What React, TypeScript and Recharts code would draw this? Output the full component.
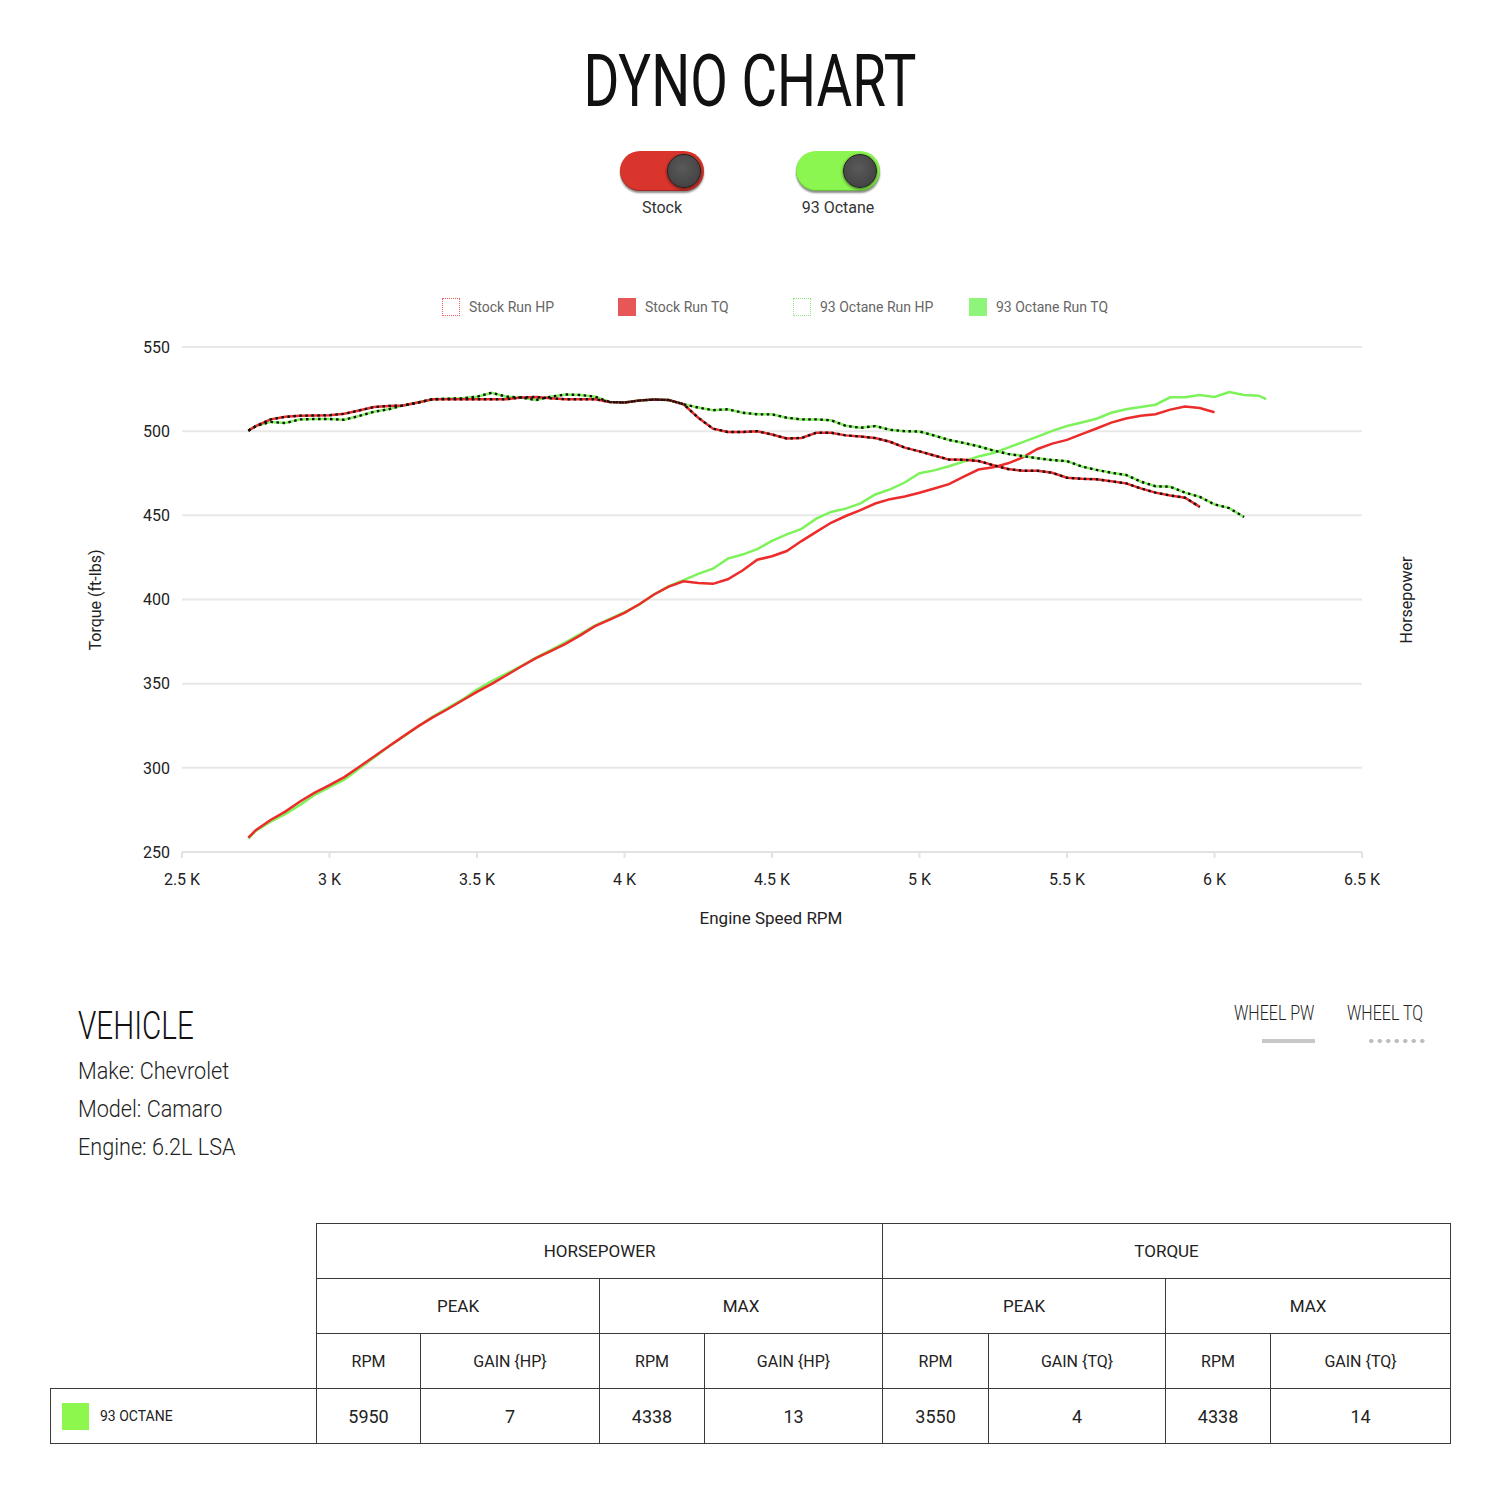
import { LineChart, Line, XAxis, YAxis, CartesianGrid } from "recharts"

// engine speed samples (rpm)
const rpm = [
  2725, 2750, 2800, 2850, 2900, 2950, 3000, 3050, 3100, 3150, 3200, 3250, 3300, 3350, 3400, 3450,
  3500, 3550, 3600, 3650, 3700, 3750, 3800, 3850, 3900, 3950, 4000, 4050, 4100, 4150, 4200, 4250,
  4300, 4350, 4400, 4450, 4500, 4550, 4600, 4650, 4700, 4750, 4800, 4850, 4900, 4950, 5000, 5050,
  5100, 5150, 5200, 5250, 5300, 5350, 5400, 5450, 5500, 5550, 5600, 5650, 5700, 5750, 5800, 5850,
  5900, 5950, 6000, 6050, 6100, 6150, 6175,
]

const stockRunHp = [
  500.3, 503, 507, 508.5, 509.2, 509.3, 509.5, 510.3, 512.3, 514.3, 515, 515.2, 517, 519, 519, 519,
  519, 519, 519, 520, 520.3, 519.5, 519, 519, 519, 517.3, 517, 518.2, 518.8, 518.5, 516, 508,
  501.5, 499.5, 499.5, 500, 498, 495.6, 496, 499, 499.1, 497.5, 496.8, 495.9, 493.7, 490.2, 488, 485.5,
  483.1, 483, 482.3, 479.8, 477.5, 476.5, 476.5, 475.3, 472.3, 471.7, 471.4, 470.2, 469, 466, 463.5, 461.8,
  460.5, 455, null, null, null, null, null,
]

const stockRunTq = [
  258.5, 263, 269, 274, 280, 285.3, 289.7, 294.5, 300.5, 306.6, 312.7, 318.7, 324.6, 330, 334.8, 340,
  345.1, 349.9, 355, 360.2, 365.2, 369.3, 373.6, 378.7, 384.2, 388, 392.1, 397.2, 403, 407.7, 410.8, 409.8,
  409.3, 412, 417.2, 423.6, 425.7, 428.8, 434.7, 440.2, 445.6, 449.6, 453.1, 457, 459.6, 461.2, 463.4, 465.9,
  468.5, 473, 477.2, 478.5, 480.9, 484.4, 489.4, 492.6, 494.8, 498.2, 501.6, 505.1, 507.5, 509.2, 510.1, 512.8,
  514.6, 513.8, 511.2, null, null, null, null,
]

const octaneRunHp = [
  500.3, 503, 505.5, 504.8, 507, 507.2, 507.2, 506.8, 509, 511.5, 513, 515.3, 517, 519, 519.3, 519.5,
  520.5, 522.8, 520.5, 520, 518.5, 520.5, 521.8, 521.5, 520.5, 517.3, 517, 518.2, 518.8, 518.5, 516, 514,
  512.5, 513, 511, 510, 510, 508, 507, 507, 506.5, 503.2, 502, 503, 500.8, 500, 499.8, 497.4,
  494.8, 493, 491, 488.5, 486.5, 485.2, 483.9, 482.8, 482.2, 479, 477, 475.3, 474, 470, 467.3, 467,
  463.5, 461, 456.5, 454.3, 449, null, null,
]

const octaneRunTq = [
  258, 262.5, 268, 272.5, 278, 284, 288.5, 293, 299.5, 306, 312.5, 318.5, 324.5, 330.5, 335.5, 340.5,
  346.5, 351.5, 356, 360.5, 365.5, 370, 374.5, 379.5, 384.5, 388.5, 392.5, 397, 403, 408, 411.5, 415.2,
  418.3, 424.3, 426.7, 429.9, 434.8, 438.7, 442, 448, 452, 454, 457.1, 462.4, 465.4, 469.5, 475, 476.7,
  479.2, 482, 485, 487, 490.2, 493.5, 496.8, 500.2, 503.1, 505.2, 507.4, 510.9, 513, 514.3, 515.7, 520.1,
  520.1, 521.5, 520.3, 523.2, 521.5, 521.1, 519,
]

const xTicks = [2500, 3000, 3500, 4000, 4500, 5000, 5500, 6000, 6500]
const yTicks = [250, 300, 350, 400, 450, 500, 550]

const legendLabels = ["Stock Run HP", "Stock Run TQ", "93 Octane Run HP", "93 Octane Run TQ"]
const toggleLabels = ["Stock", "93 Octane"]
const vehicleInfo = ["Make: Chevrolet", "Model: Camaro", "Engine: 6.2L LSA"]

const tableGroups = ["HORSEPOWER", "TORQUE"]
const tableSubGroups = ["PEAK", "MAX", "PEAK", "MAX"]
const tableColumns = ["RPM", "GAIN {HP}", "RPM", "GAIN {HP}", "RPM", "GAIN {TQ}", "RPM", "GAIN {TQ}"]
const octaneRowLabel = "93 OCTANE"
const octaneRow = [5950, 7, 4338, 13, 3550, 4, 4338, 14]

const RED = "#ec2b2b"
const GREEN = "#7ef25a"
const FONT = "Roboto, 'Noto Sans', sans-serif"

const chartData = rpm.map((r, i) => ({
  rpm: r,
  stockHp: stockRunHp[i],
  stockTq: stockRunTq[i],
  octaneHp: octaneRunHp[i],
  octaneTq: octaneRunTq[i],
}))

const legendBoxes = [
  { border: "1.5px dotted #ee5c5c", background: "transparent" },
  { border: "1px solid #e85757", background: "#e85757" },
  { border: "1.5px dotted #8eea7e", background: "transparent" },
  { border: "1px solid #8ef57a", background: "#8ef57a" },
]
const legendX = [442, 618, 793, 969]

function Toggle({ left, color, label }: { left: number; color: string; label: string }) {
  return (
    <>
      <div
        style={{
          position: "absolute",
          left,
          top: 151,
          width: 84,
          height: 40,
          borderRadius: 20,
          background: color,
          boxShadow: "0 2px 2px rgba(0,0,0,0.45), inset 0 -1px 1px rgba(0,0,0,0.25)",
        }}
      >
        <div
          style={{
            position: "absolute",
            left: 47,
            top: 3,
            width: 34,
            height: 34,
            borderRadius: 17,
            background: "radial-gradient(circle at 45% 40%, #5a5a5a, #3c3c3c)",
            border: "1px solid #222",
            boxSizing: "border-box",
            boxShadow: "0 1px 3px rgba(0,0,0,0.6)",
          }}
        />
      </div>
      <div
        style={{
          position: "absolute",
          left: left - 40,
          width: 164,
          top: 198,
          textAlign: "center",
          fontSize: 16,
          color: "#333",
          lineHeight: "20px",
        }}
      >
        {label}
      </div>
    </>
  )
}

const cell: React.CSSProperties = {
  border: "1px solid #3a3a3a",
  textAlign: "center",
  verticalAlign: "middle",
  padding: 0,
  fontSize: 17,
  color: "#222",
}
const blank: React.CSSProperties = { border: "none", padding: 0 }

export default function App() {
  return (
    <div
      style={{
        position: "absolute",
        left: 0,
        top: 0,
        width: 1500,
        height: 1500,
        background: "#fff",
        fontFamily: FONT,
        overflow: "hidden",
      }}
    >
      {/* title */}
      <div
        style={{
          position: "absolute",
          left: 0,
          top: 46,
          width: 1500,
          textAlign: "center",
          fontSize: 72,
          lineHeight: "72px",
          fontWeight: 400,
          color: "#111",
          transform: "scaleX(0.76)",
        }}
      >
        DYNO CHART
      </div>

      <Toggle left={620} color="#d9352c" label={toggleLabels[0]} />
      <Toggle left={796} color="#8cf650" label={toggleLabels[1]} />

      {/* legend */}
      {legendLabels.map((label, i) => (
        <div key={label}>
          <div
            style={{
              position: "absolute",
              left: legendX[i],
              top: 298,
              width: 18,
              height: 18,
              boxSizing: "border-box",
              ...legendBoxes[i],
            }}
          />
          <div
            style={{
              position: "absolute",
              left: legendX[i] + 27,
              top: 298,
              fontSize: 14,
              lineHeight: "18px",
              color: "#666",
              whiteSpace: "nowrap",
            }}
          >
            {label}
          </div>
        </div>
      ))}

      {/* chart */}
      <div style={{ position: "absolute", left: 0, top: 300 }}>
        <LineChart
          width={1500}
          height={660}
          data={chartData}
          margin={{ top: 47, right: 98, bottom: 78, left: 102 }}
        >
          <CartesianGrid yAxisId="tq" vertical={false} stroke="#e8e8e8" strokeWidth={2} />
          <XAxis
            dataKey="rpm"
            type="number"
            domain={[2500, 6500]}
            ticks={xTicks}
            tickFormatter={(v) => `${v / 1000} K`}
            height={30}
            stroke="#e2e2e2"
            strokeWidth={2}
            tickSize={6}
            tickMargin={16}
            tick={{ fontSize: 16, fill: "#222", fontFamily: FONT }}
          />
          <YAxis
            yAxisId="tq"
            domain={[250, 550]}
            ticks={yTicks}
            width={80}
            axisLine={false}
            tickLine={false}
            tickMargin={6}
            tick={{ fontSize: 16, fill: "#222", fontFamily: FONT }}
          />
          <YAxis
            yAxisId="hp"
            orientation="right"
            domain={[250, 550]}
            width={40}
            axisLine={false}
            tickLine={false}
            tick={false}
          />
          <Line yAxisId="tq" type="linear" dataKey="octaneTq" stroke={GREEN} strokeWidth={2.5} dot={false} isAnimationActive={false} />
          <Line yAxisId="tq" type="linear" dataKey="stockTq" stroke={RED} strokeWidth={2.5} dot={false} isAnimationActive={false} />
          <Line yAxisId="hp" type="linear" dataKey="octaneHp" stroke={GREEN} strokeWidth={2.5} dot={false} isAnimationActive={false} />
          <Line yAxisId="hp" type="linear" dataKey="stockHp" stroke={RED} strokeWidth={2.5} dot={false} isAnimationActive={false} />
          <Line yAxisId="hp" type="linear" dataKey="octaneHp" stroke="#111" strokeWidth={2.4} strokeDasharray="2.5 3.5" dot={false} isAnimationActive={false} />
          <Line yAxisId="hp" type="linear" dataKey="stockHp" stroke="#111" strokeWidth={2.4} strokeDasharray="2.5 3.5" dot={false} isAnimationActive={false} />
        </LineChart>
      </div>

      {/* axis titles */}
      <div
        style={{
          position: "absolute",
          left: 95,
          top: 600,
          transform: "translate(-50%, -50%) rotate(-90deg)",
          fontSize: 16,
          color: "#222",
          whiteSpace: "nowrap",
        }}
      >
        Torque (ft-lbs)
      </div>
      <div
        style={{
          position: "absolute",
          left: 1406,
          top: 600,
          transform: "translate(-50%, -50%) rotate(-90deg)",
          fontSize: 16,
          color: "#222",
          whiteSpace: "nowrap",
        }}
      >
        Horsepower
      </div>
      <div
        style={{
          position: "absolute",
          left: 0,
          width: 1542,
          top: 907,
          textAlign: "center",
          fontSize: 17,
          lineHeight: "22px",
          color: "#222",
        }}
      >
        Engine Speed RPM
      </div>

      {/* vehicle block */}
      <div
        style={{
          position: "absolute",
          left: 78,
          top: 1007,
          fontSize: 39,
          lineHeight: "39px",
          fontWeight: 300,
          color: "#111",
          transform: "scaleX(0.76)",
          transformOrigin: "left center",
        }}
      >
        VEHICLE
      </div>
      {vehicleInfo.map((line, i) => (
        <div
          key={line}
          style={{
            position: "absolute",
            left: 78,
            top: 1058 + i * 38,
            fontSize: 23,
            lineHeight: "28px",
            fontWeight: 300,
            color: "#222",
            whiteSpace: "nowrap",
            transform: "scaleX(0.94)",
            transformOrigin: "left center",
          }}
        >
          {line}
        </div>
      ))}

      {/* wheel legend */}
      <div
        style={{
          position: "absolute",
          left: 1234,
          top: 1002,
          fontSize: 20,
          lineHeight: "22px",
          fontWeight: 300,
          color: "#222",
          whiteSpace: "nowrap",
          transform: "scaleX(0.8)",
          transformOrigin: "left center",
        }}
      >
        WHEEL PW
      </div>
      <div
        style={{
          position: "absolute",
          left: 1347,
          top: 1002,
          fontSize: 20,
          lineHeight: "22px",
          fontWeight: 300,
          color: "#222",
          whiteSpace: "nowrap",
          transform: "scaleX(0.8)",
          transformOrigin: "left center",
        }}
      >
        WHEEL TQ
      </div>
      <div style={{ position: "absolute", left: 1262, top: 1039, width: 53, height: 4, background: "#c8c8c8" }} />
      <div
        style={{
          position: "absolute",
          left: 1367,
          top: 1038,
          width: 59,
          height: 6,
          backgroundImage: "radial-gradient(circle, #bdbdbd 1.9px, transparent 2.2px)",
          backgroundSize: "8.5px 6px",
        }}
      />

      {/* results table */}
      <table
        style={{
          position: "absolute",
          left: 50,
          top: 1223,
          width: 1400,
          borderCollapse: "collapse",
          tableLayout: "fixed",
          fontFamily: FONT,
        }}
      >
        <colgroup>
          {[266, 104, 179, 105, 178, 106, 177, 105, 180].map((w, i) => (
            <col key={i} style={{ width: w }} />
          ))}
        </colgroup>
        <tbody>
          <tr style={{ height: 55 }}>
            <td style={blank} />
            {tableGroups.map((g) => (
              <td key={g} colSpan={4} style={cell}>
                {g}
              </td>
            ))}
          </tr>
          <tr style={{ height: 55 }}>
            <td style={blank} />
            {tableSubGroups.map((g, i) => (
              <td key={i} colSpan={2} style={cell}>
                {g}
              </td>
            ))}
          </tr>
          <tr style={{ height: 55 }}>
            <td style={blank} />
            {tableColumns.map((c, i) => (
              <td key={i} style={{ ...cell, fontSize: 16 }}>
                {c}
              </td>
            ))}
          </tr>
          <tr style={{ height: 55 }}>
            <td style={{ ...cell, textAlign: "left" }}>
              <div style={{ display: "flex", alignItems: "center" }}>
                <div style={{ width: 27, height: 27, background: "#8ef74e", marginLeft: 11, marginRight: 11 }} />
                <span style={{ fontSize: 14, color: "#222" }}>{octaneRowLabel}</span>
              </div>
            </td>
            {octaneRow.map((v, i) => (
              <td key={i} style={{ ...cell, fontSize: 18 }}>
                {v}
              </td>
            ))}
          </tr>
        </tbody>
      </table>
    </div>
  )
}
